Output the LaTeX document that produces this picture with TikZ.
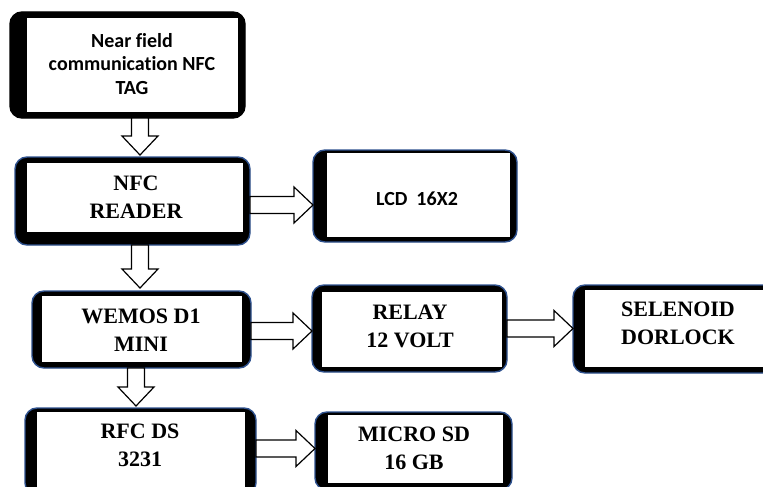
\documentclass[tikz,border=0pt]{standalone}
\usepackage{fontspec}
\setmainfont{Liberation Serif}
\newfontfamily\calibri[Ligatures=NoCommon]{Carlito}
\usetikzlibrary{calc}
\definecolor{Edge}{HTML}{2F528F}

\tikzset{
  frame/.style={rectangle,rounded corners=12pt,fill=black,line width=1.4pt,inner sep=0pt,outer sep=0pt},
  serif/.style={font=\fontsize{22}{28}\selectfont\bfseries,align=center,inner sep=0pt},
  sans/.style={font=\calibri\fontsize{20}{23.5}\selectfont\bfseries,align=center,inner sep=0pt},
  hollow/.style={draw=black,fill=white,line width=1.2pt,line join=miter}
}

% block arrow from #1 to #2 (named coordinates)
\newcommand\hollowarrow[2]{%
  \draw[hollow] ($(#1)!8.5pt!90:(#2)$) -- ($(#2)!19pt!(#1)!8.5pt!90:(#2)$)
    -- ($(#2)!19pt!(#1)!18pt!90:(#2)$) -- (#2)
    -- ($(#2)!19pt!(#1)!18pt!-90:(#2)$) -- ($(#2)!19pt!(#1)!8.5pt!-90:(#2)$)
    -- ($(#1)!8.5pt!-90:(#2)$) -- cycle;}

\begin{document}
\begin{tikzpicture}[x=1pt,y=-1pt]
  \useasboundingbox (0,0) rectangle (763,487);
  \clip (0,0) rectangle (763,487);
  \fill[white] (0,0) rectangle (763,487);

  % frames: name / outer box / inner white box / outline colour
  \foreach \nm/\ax/\ay/\bx/\by/\ix/\iy/\jx/\jy/\col in {
    tag/10/12/245/118/27/18/238/112/black,
    reader/15/157/250/245/27/163/243/232/Edge,
    lcd/313/150/517/242/327/153/510/237/Edge,
    wemos/32/291/251/368/42/296/242/362/Edge,
    relay/312/285/507/372/322/292/502/367/Edge,
    sel/573/285/790/373/585/290/785/367/Edge,
    rfc/25/408/256/495/37/412/245/492/Edge,
    micro/315/412/512/490/328/415/503/483/Edge} {
    \node[frame,draw=\col,minimum width=(\bx-\ax)*1pt,minimum height=(\by-\ay)*1pt]
      (\nm) at ({(\ax+\bx)/2},{(\ay+\by)/2}) {};
    \fill[white] (\ix,\iy) rectangle (\jx,\jy);
  }

  \node[sans] (tag-t) at (132,64) {Near field\\communication NFC\\TAG};
  \node[serif] (reader-t) at (136,197.5) {NFC\\READER};
  \node[sans] (lcd-t) at (417,199) {LCD\ \ 16X2};
  \node[serif] (wemos-t) at (141,330.5) {WEMOS D1\\MINI};
  \node[serif] (relay-t) at (410,326) {RELAY\\12 VOLT};
  \node[serif] (sel-t) at (678,323) {SELENOID\\DORLOCK};
  \node[serif] (rfc-t) at (140,445.5) {RFC DS\\3231};
  \node[serif] (micro-t) at (414,448) {MICRO SD\\16 GB};

  % arrows
  \coordinate (a1s) at ([xshift=12.5pt]tag.south);
  \coordinate (a1t) at ([yshift=2pt]a1s |- reader.north);
  \coordinate (a2s) at ([xshift=7.5pt]reader.south);
  \coordinate (a2t) at ([yshift=3pt]a2s |- wemos.north);
  \coordinate (a3s) at ([xshift=-5.5pt]wemos.south);
  \coordinate (a3t) at ([yshift=2pt]a3s |- rfc.north);
  \coordinate (a4s) at ([yshift=-4pt]reader.east);
  \coordinate (a4t) at (a4s -| lcd.west);
  \coordinate (a5s) at ([yshift=-1.5pt]wemos.east);
  \coordinate (a5t) at (a5s -| relay.west);
  \coordinate (a6s) at (relay.east);
  \coordinate (a6t) at (a6s -| sel.west);
  \coordinate (a7s) at ([yshift=3pt]rfc.east);
  \coordinate (a7t) at (a7s -| micro.west);
  \hollowarrow{a1s}{a1t}
  \hollowarrow{a2s}{a2t}
  \hollowarrow{a3s}{a3t}
  \hollowarrow{a4s}{a4t}
  \hollowarrow{a5s}{a5t}
  \hollowarrow{a6s}{a6t}
  \hollowarrow{a7s}{a7t}
\end{tikzpicture}
\end{document}
